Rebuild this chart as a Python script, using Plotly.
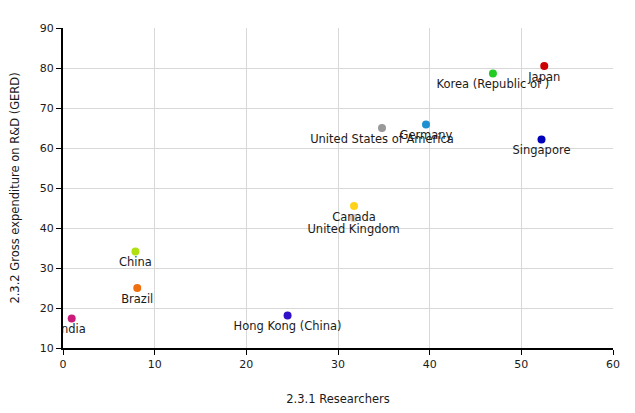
import plotly.graph_objects as go

countries = ["Japan", "Korea (Republic of )", "Germany", "United States of America",
             "Singapore", "United Kingdom", "Canada", "China", "Brazil", "India",
             "Hong Kong (China)"]
researchers = [52.5, 46.9, 39.6, 34.8, 52.2, 31.7, 31.75, 7.9, 8.1, 0.95, 24.5]
gerd = [80.5, 78.6, 65.9, 65.0, 62.1, 42.5, 45.5, 34.1, 25.0, 17.4, 18.1]
colors = ["#cc0000", "#22cc22", "#1e90d0", "#999999", "#0000bb", "#d0d0d0",
          "#ffd21a", "#b0e010", "#f07010", "#cc1a7a", "#3010c8"]

x_ticks = [0, 10, 20, 30, 40, 50, 60]
y_ticks = [10, 20, 30, 40, 50, 60, 70, 80, 90]

FONT = "DejaVu Sans"
TXT = "#1a1a1a"

fig = go.Figure()
fig.add_trace(go.Scatter(
    x=researchers, y=gerd, mode="markers",
    marker=dict(size=8, color=colors),
    cliponaxis=True, showlegend=False, hoverinfo="skip"))
fig.add_trace(go.Scatter(
    x=researchers, y=gerd, mode="markers+text", text=countries,
    marker=dict(size=8, opacity=0),
    textposition="bottom center",
    textfont=dict(family=FONT, size=11.5, color=TXT),
    cliponaxis=True, showlegend=False, hoverinfo="skip"))

axis_common = dict(
    showgrid=True, gridcolor="#d8d8d8", gridwidth=1,
    showline=True, linecolor="black", linewidth=2,
    ticks="outside", ticklen=5, tickcolor="black", tickwidth=1,
    zeroline=False, automargin=False,
    tickfont=dict(family=FONT, size=11, color=TXT),
)

fig.update_layout(
    width=635, height=413,
    margin=dict(l=63, r=22, t=28, b=65, autoexpand=False),
    plot_bgcolor="white", paper_bgcolor="white",
    xaxis=dict(range=[0, 60], tickvals=x_ticks,
               title=dict(text="2.3.1 Researchers", standoff=25,
                          font=dict(family=FONT, size=11.5, color=TXT)),
               **axis_common),
    yaxis=dict(range=[10, 90], tickvals=y_ticks,
               title=dict(text="2.3.2 Gross expenditure on R&D (GERD)", standoff=18,
                          font=dict(family=FONT, size=11.5, color=TXT)),
               **axis_common),
)

fig.write_html("out.html")
